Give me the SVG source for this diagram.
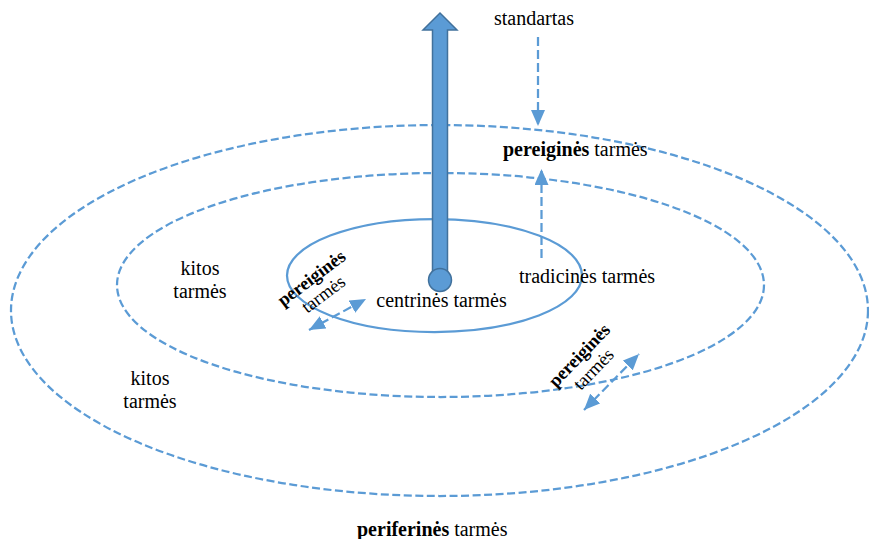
<svg xmlns="http://www.w3.org/2000/svg" width="869" height="539" viewBox="0 0 869 539">
  <style>
    .ring { fill: none; stroke: #5B9BD5; stroke-width: 2.25; }
    .dash { stroke-dasharray: 8 3.5; }
    .conn { fill: none; stroke: #5B9BD5; stroke-width: 2.25; stroke-dasharray: 9 4; }
    .lbl { font-family: "Liberation Serif", "Times New Roman", serif; font-size: 20px; fill: #000; }
    .small { font-size: 18.5px; }
    .b { font-weight: bold; }
  </style>
  <defs>
    <marker id="tri" viewBox="0 0 16 14" refX="16" refY="7" markerWidth="16" markerHeight="14" markerUnits="userSpaceOnUse" orient="auto-start-reverse">
      <path d="M0,0 L16,7 L0,14 Z" fill="#5B9BD5"/>
    </marker>
  </defs>

  <!-- dialect zones -->
  <g id="periferines">
    <ellipse class="ring dash" cx="439.5" cy="310.5" rx="428.5" ry="185.5"/>
  </g>
  <g id="tradicines">
    <ellipse class="ring dash" cx="440.5" cy="285" rx="323.5" ry="112"/>
  </g>
  <g id="centrines">
    <ellipse class="ring" cx="434.5" cy="275.5" rx="147.5" ry="56.5"/>
  </g>

  <!-- connectors -->
  <g id="connectors">
    <line class="conn" x1="538" y1="37" x2="538" y2="126" marker-end="url(#tri)"/>
    <line class="conn" x1="541.5" y1="258" x2="541.5" y2="169" marker-end="url(#tri)"/>
    <line class="conn" x1="309" y1="330" x2="366" y2="299" marker-start="url(#tri)" marker-end="url(#tri)"/>
    <line class="conn" x1="584" y1="410" x2="639" y2="354" marker-start="url(#tri)" marker-end="url(#tri)"/>
  </g>

  <!-- standard axis -->
  <g id="axis">
    <path d="M432.5,280 L432.5,30 L423,30 L440,13 L457,30 L447.5,30 L447.5,280 Z" fill="#5B9BD5" stroke="#41719C" stroke-width="1.5" stroke-linejoin="miter"/>
    <circle cx="440" cy="280" r="11.5" fill="#5B9BD5" stroke="#41719C" stroke-width="1.5"/>
  </g>

  <!-- labels -->
  <g id="label-standartas">
    <text class="lbl" x="534" y="25" text-anchor="middle">standartas</text>
  </g>
  <g id="label-pereigines-top">
    <text class="lbl" x="503" y="156"><tspan class="b">pereiginės</tspan> tarmės</text>
  </g>
  <g id="label-tradicines">
    <text class="lbl" x="519" y="283">tradicinės tarmės</text>
  </g>
  <g id="label-centrines">
    <text class="lbl" x="441.5" y="307" text-anchor="middle">centrinės tarmės</text>
  </g>
  <g id="label-kitos-inner">
    <text class="lbl" x="200" y="275" text-anchor="middle">kitos</text>
    <text class="lbl" x="200" y="298" text-anchor="middle">tarmės</text>
  </g>
  <g id="label-kitos-outer">
    <text class="lbl" x="150" y="385" text-anchor="middle">kitos</text>
    <text class="lbl" x="150" y="408" text-anchor="middle">tarmės</text>
  </g>
  <g id="label-pereigines-left" transform="translate(312,279) rotate(-37)">
    <text class="lbl small b" x="0" y="5" text-anchor="middle">pereiginės</text>
    <text class="lbl small" x="0" y="25" text-anchor="middle">tarmės</text>
  </g>
  <g id="label-pereigines-right" transform="translate(580,356) rotate(-46)">
    <text class="lbl small b" x="0" y="5" text-anchor="middle">pereiginės</text>
    <text class="lbl small" x="0" y="25" text-anchor="middle">tarmės</text>
  </g>
  <g id="label-periferines">
    <text class="lbl" x="357" y="536"><tspan class="b">periferinės</tspan> tarmės</text>
  </g>
</svg>
